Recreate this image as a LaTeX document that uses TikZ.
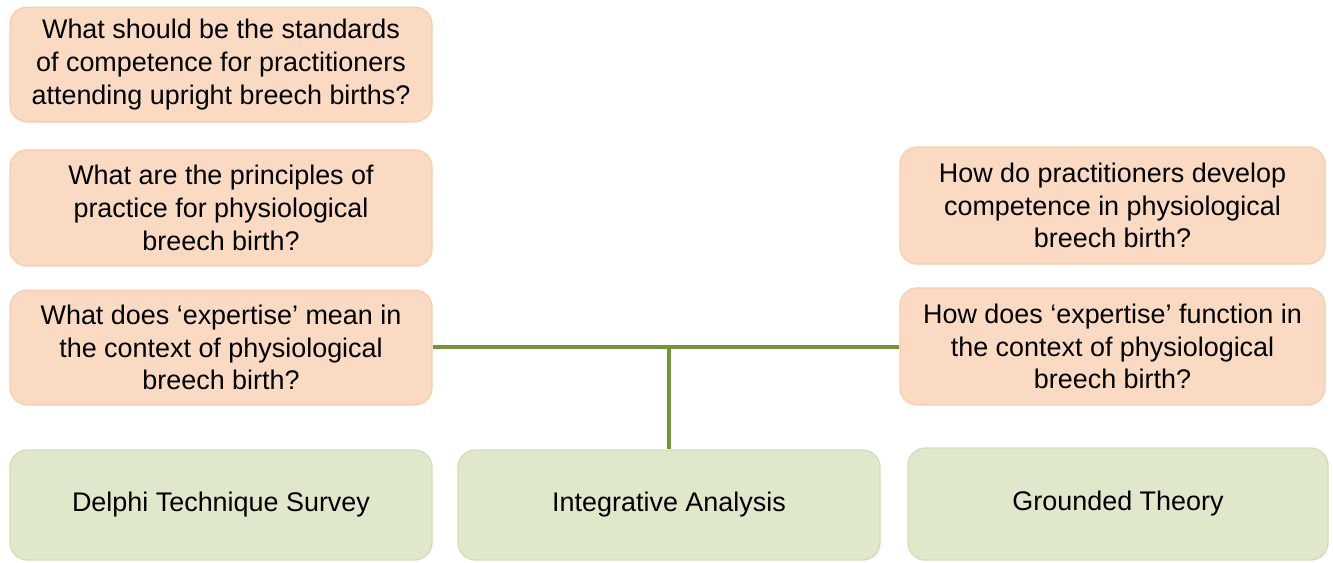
\documentclass[tikz,border=0pt]{standalone}
\usepackage{fontspec}
\setmainfont{Liberation Sans}
\definecolor{peach}{HTML}{FBDAC3}
\definecolor{peachline}{HTML}{F6CDAE}
\definecolor{sage}{HTML}{DFE8CB}
\definecolor{sageline}{HTML}{D2DEBB}
\definecolor{olive}{HTML}{77933C}
\begin{document}
\begin{tikzpicture}[x=0.75pt,y=-0.75pt,
  qbox/.style={draw=peachline,fill=peach,line width=1pt,rounded corners=13pt,
    align=center,inner sep=0pt,font=\fontsize{20.2}{24.6}\selectfont},
  mbox/.style={draw=sageline,fill=sage,line width=1pt,rounded corners=13pt,
    align=center,inner sep=0pt,font=\fontsize{20.2}{24.6}\selectfont},
  link/.style={draw=olive,line width=3pt}]
\useasboundingbox (0,0) rectangle (1333,562);
\node[qbox,minimum width=316.5pt,minimum height=86pt] (q1) at (221,64.5)
  {What should be the standards\\of competence for practitioners\\attending upright breech births?};
\node[qbox,minimum width=316.5pt,minimum height=87pt] (q2) at (221,208)
  {What are the principles of\\practice for physiological\\breech birth?};
\node[qbox,minimum width=316.5pt,minimum height=86pt] (q3) at (221,347.5)
  {What does ‘expertise’ mean in\\the context of physiological\\breech birth?};
\node[qbox,minimum width=318.75pt,minimum height=87.75pt] (r1) at (1112.5,205.5)
  {How do practitioners develop\\competence in physiological\\breech birth?};
\node[qbox,minimum width=318.75pt,minimum height=87.75pt] (r2) at (1112.5,346.5)
  {How does ‘expertise’ function in\\the context of physiological\\breech birth?};
\node[mbox,minimum width=316.5pt,minimum height=82.5pt] (m1) at (221,505)
  {Delphi Technique Survey};
\node[mbox,minimum width=316.5pt,minimum height=82.5pt] (m2) at (669,505)
  {Integrative Analysis};
\node[mbox,minimum width=315pt,minimum height=84pt] (m3) at (1118,504)
  {Grounded Theory};
\coordinate (j) at (669,347);
\draw[link] (q3.east |- j) -- (r2.west |- j);
\draw[link] (j) -- (m2.north);
\end{tikzpicture}
\end{document}
